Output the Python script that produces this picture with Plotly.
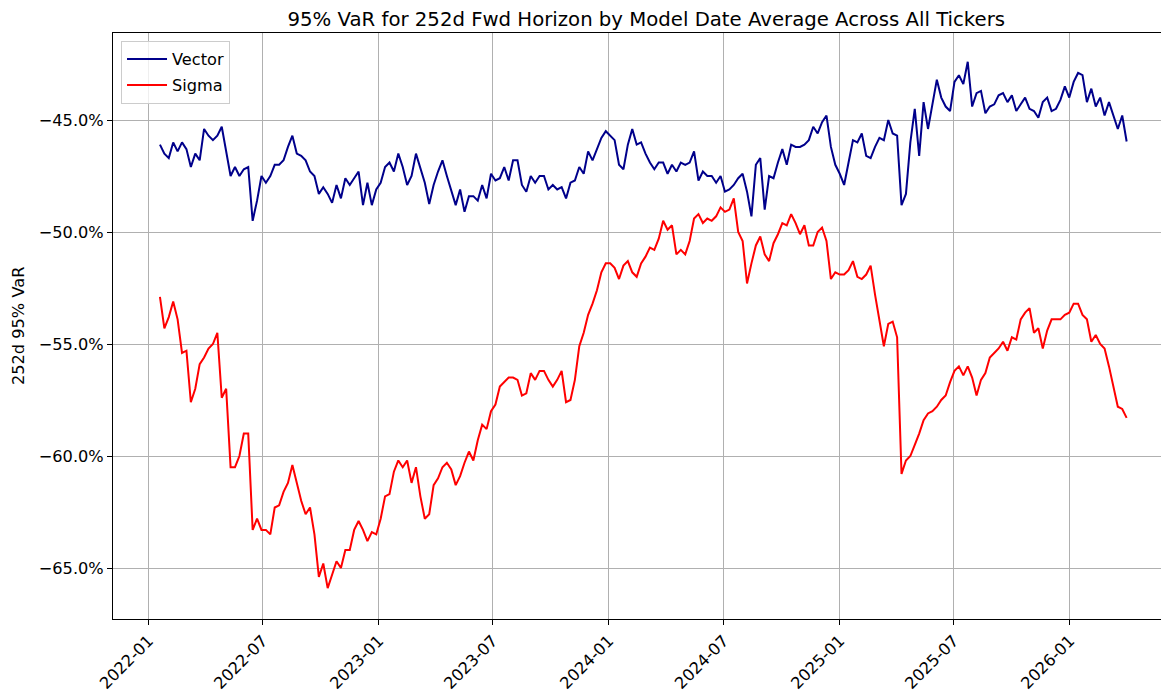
import pandas as pd
import plotly.graph_objects as go

# Weekly model dates (first model date read at ~2022-01-19)
start_date = "2022-01-19"

vector_var = [
    -46.1, -46.5, -46.7, -46.0, -46.4, -46.0, -46.3, -47.1, -46.5, -46.8,
    -45.4, -45.7, -45.9, -45.7, -45.3, -46.4, -47.5, -47.1, -47.5, -47.2,
    -47.1, -49.5, -48.6, -47.5, -47.8, -47.5, -47.0, -47.0, -46.8, -46.2,
    -45.7, -46.5, -46.6, -46.8, -47.3, -47.5, -48.3,
    -48.0, -48.3, -48.7, -47.9, -48.5, -47.6, -47.9, -47.6, -47.3, -48.8,
    -47.8, -48.8, -48.1, -47.8, -47.1, -46.9, -47.3, -46.5, -47.1, -47.9,
    -47.5, -46.5, -47.1, -47.8, -48.75, -47.9, -47.3, -46.8, -47.5, -48.1,
    -48.8, -48.1, -49.1, -48.4, -48.4, -48.6, -47.9, -48.5,
    -47.4, -47.7, -47.6, -47.1, -47.7, -46.8, -46.8, -47.9, -48.2, -47.5,
    -47.8, -47.5, -47.5, -48.1, -47.9, -48.1, -48.0, -48.5, -47.8, -47.7,
    -47.1, -47.4, -46.4, -46.8, -46.3, -45.8, -45.5, -45.7, -45.9, -47.0,
    -47.2, -46.1, -45.4, -46.1, -46.0, -46.5, -46.9, -47.2, -46.9,
    -46.9, -47.4, -47.0, -47.3, -46.9, -47.0, -46.9, -46.4, -47.7, -47.3,
    -47.5, -47.5, -47.8, -47.5, -48.2, -48.1, -47.9, -47.6, -47.4, -48.2,
    -49.3, -47.0, -46.7, -49.0, -47.5, -47.6, -46.9, -46.3, -47.0, -46.1,
    -46.2, -46.2, -46.1, -45.9, -45.3, -45.6, -45.1, -44.8,
    -46.2, -47.0, -47.4, -47.9, -46.9, -45.9, -46.0, -45.6, -46.6, -46.7,
    -46.2, -45.8, -45.9, -45.0, -45.6, -45.7, -48.8, -48.3, -46.0, -44.5,
    -46.6, -44.2, -45.4, -44.3, -43.2, -44.0, -44.4, -44.6, -43.3, -43.0,
    -43.4, -42.4, -44.4, -43.8, -43.7, -44.7, -44.4, -44.3, -43.9,
    -43.8, -44.2, -43.9, -44.6, -44.3, -44.0, -44.5, -44.6, -44.9, -44.2,
    -44.0, -44.6, -44.5, -44.1, -43.5, -44.0, -43.3, -42.9, -43.0, -44.2,
    -43.6, -44.4, -44.0, -44.8, -44.2, -44.8, -45.4, -44.8, -45.96,
]

sigma_var = [
    -52.9, -54.3, -53.8, -53.1, -53.9, -55.4, -55.3, -57.6, -57.0, -55.9,
    -55.6, -55.2, -55.0, -54.5, -57.4, -57.0, -60.5, -60.5, -60.0, -59.0,
    -59.0, -63.3, -62.8, -63.3, -63.3, -63.5, -62.3, -62.2, -61.6, -61.2,
    -60.4, -61.2, -62.0, -62.6, -62.3, -63.5, -65.4,
    -64.8, -65.9, -65.3, -64.7, -65.0, -64.2, -64.2, -63.3, -62.9, -63.3,
    -63.8, -63.4, -63.5, -62.8, -61.8, -61.7, -60.7, -60.2, -60.5, -60.2,
    -61.2, -60.5, -61.8, -62.8, -62.6, -61.3, -61.0, -60.5, -60.3, -60.6,
    -61.3, -60.9, -60.3, -59.8, -60.2, -59.3, -58.6, -58.8,
    -58.0, -57.7, -56.9, -56.7, -56.5, -56.5, -56.6, -57.3, -57.2, -56.3,
    -56.6, -56.2, -56.2, -56.6, -56.9, -56.6, -56.2, -57.6, -57.5, -56.6,
    -55.1, -54.5, -53.7, -53.2, -52.6, -51.8, -51.4, -51.4, -51.6, -52.1,
    -51.5, -51.3, -51.8, -52.0, -51.4, -51.1, -50.7, -50.8, -50.3,
    -49.5, -49.9, -49.7, -51.0, -50.8, -51.0, -50.4, -49.4, -49.2, -49.6,
    -49.4, -49.5, -49.3, -48.9, -49.1, -49.0, -48.5, -50.0, -50.4, -52.3,
    -51.4, -50.6, -50.2, -51.0, -51.3, -50.5, -50.1, -49.6, -49.7, -49.2,
    -49.6, -50.1, -49.7, -50.6, -50.6, -50.0, -49.8, -50.4,
    -52.1, -51.8, -51.9, -51.9, -51.7, -51.3, -52.0, -52.1, -51.9, -51.5,
    -52.8, -53.9, -55.1, -54.1, -54.0, -54.7, -60.8, -60.2, -60.0, -59.5,
    -59.0, -58.4, -58.1, -58.0, -57.8, -57.5, -57.3, -56.7, -56.2, -56.0,
    -56.4, -56.0, -56.5, -57.3, -56.6, -56.3, -55.6, -55.4, -55.2,
    -54.9, -55.3, -54.7, -54.8, -53.9, -53.6, -53.4, -54.5, -54.3, -55.2,
    -54.4, -53.9, -53.9, -53.9, -53.7, -53.6, -53.2, -53.2, -53.7, -53.9,
    -54.9, -54.6, -55.0, -55.2, -56.0, -56.9, -57.8, -57.9, -58.3,
]

x_tick_dates = ["2022-01-01", "2022-07-01", "2023-01-01", "2023-07-01", "2024-01-01",
                "2024-07-01", "2025-01-01", "2025-07-01", "2026-01-01"]
y_tick_vals = [-65, -60, -55, -50, -45]
y_tick_text = [f"{v:.1f}%".replace("-", "\u2212") for v in y_tick_vals]

dates = pd.date_range(start_date, periods=len(vector_var), freq="7D")

FONT = "DejaVu Sans"
TICK_SIZE = 16.2

fig = go.Figure()
fig.add_trace(go.Scatter(x=dates, y=vector_var, mode="lines", name="Vector",
                         legendgroup="v", line=dict(color="#00008b", width=2)))
fig.add_trace(go.Scatter(x=dates, y=sigma_var, mode="lines", name="Sigma",
                         legendgroup="s", line=dict(color="#ff0000", width=2)))

# The page body adds an 8px offset; the figure is sized to fit the window.
fig.update_layout(
    width=1161, height=688,
    margin=dict(l=105, r=1, t=25, b=77),
    paper_bgcolor="white", plot_bgcolor="white",
    font=dict(family=FONT, color="black", size=TICK_SIZE),
    title=dict(text="95% VaR for 252d Fwd Horizon by Model Date Average Across All Tickers",
               x=0.5055, xref="paper", xanchor="center", y=0.984, yanchor="middle",
               font=dict(family=FONT, size=19.7, color="black")),
    showlegend=True,
    legend=dict(x=0.0076, y=0.9863, xanchor="left", yanchor="top",
                bgcolor="rgba(255,255,255,0.8)", bordercolor="#cccccc", borderwidth=1,
                font=dict(family=FONT, size=TICK_SIZE), itemwidth=40, tracegroupgap=2),
    annotations=[dict(text="252d 95% VaR", xref="paper", yref="paper",
                      x=-0.09, y=0.5, xanchor="center", yanchor="middle",
                      textangle=-90, showarrow=False,
                      font=dict(family=FONT, size=TICK_SIZE, color="black"))],
)

fig.update_xaxes(
    range=["2021-11-05 13:00", "2026-06-05 14:00"],
    tickvals=x_tick_dates, tickformat="%Y-%m", tickangle=-45,
    showgrid=True, gridcolor="#b0b0b0", gridwidth=1,
    showline=True, linecolor="black", linewidth=1, mirror=True,
    ticks="outside", ticklen=5, tickcolor="black",
    tickfont=dict(family=FONT, size=TICK_SIZE), zeroline=False, automargin=False,
)
fig.update_yaxes(
    range=[-67.277, -41.116],
    tickvals=y_tick_vals, ticktext=y_tick_text,
    showgrid=True, gridcolor="#b0b0b0", gridwidth=1,
    showline=True, linecolor="black", linewidth=1, mirror=True,
    ticks="outside", ticklen=5, tickcolor="black",
    tickfont=dict(family=FONT, size=TICK_SIZE), zeroline=False, automargin=False,
)

fig.write_html("out.html")
